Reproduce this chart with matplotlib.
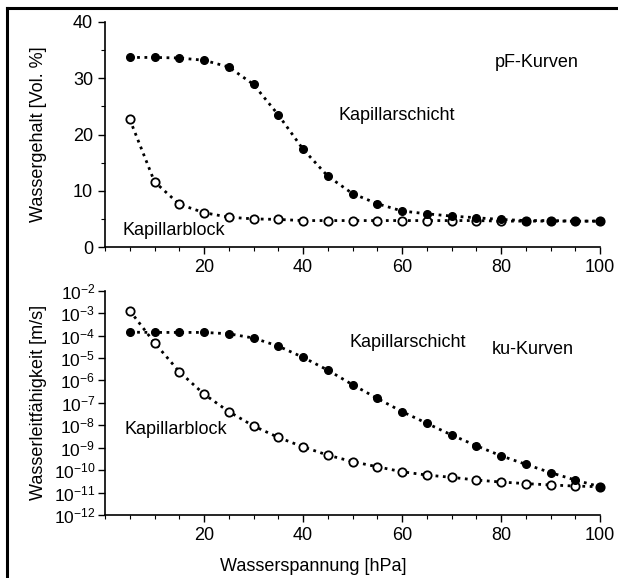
import matplotlib
matplotlib.use("Agg")
import matplotlib.pyplot as plt
from matplotlib.lines import Line2D
from matplotlib.ticker import MultipleLocator, FixedLocator, NullFormatter

plt.rcParams['font.family'] = ['Liberation Sans', 'DejaVu Sans']
plt.rcParams['mathtext.fontset'] = 'custom'
plt.rcParams['mathtext.rm'] = 'Liberation Sans'
plt.rcParams['mathtext.it'] = 'Liberation Sans'

# Wasserspannung [hPa]
spannung = [5, 10, 15, 20, 25, 30, 35, 40, 45, 50, 55, 60, 65, 70, 75, 80, 85, 90, 95, 100]

# pF-Kurven, Wassergehalt [Vol. %]
pf_schicht = [33.7, 33.7, 33.6, 33.2, 32.0, 28.9, 23.5, 17.4, 12.6, 9.5,
              7.7, 6.4, 5.9, 5.5, 5.2, 4.9, 4.7, 4.7, 4.6, 4.6]
pf_block = [22.7, 11.6, 7.6, 6.1, 5.3, 5.0, 4.9, 4.7, 4.7, 4.7,
            4.7, 4.7, 4.7, 4.7, 4.7, 4.6, 4.6, 4.6, 4.6, 4.6]

# ku-Kurven, log10 Wasserleitfaehigkeit [m/s]
ku_schicht_log = [-3.85, -3.86, -3.86, -3.86, -3.92, -4.11, -4.47, -4.97, -5.54, -6.19,
                  -6.80, -7.39, -7.91, -8.43, -8.91, -9.36, -9.74, -10.11, -10.44, -10.74]
ku_block_log = [-2.89, -4.32, -5.61, -6.61, -7.39, -8.03, -8.54, -8.96, -9.33, -9.62,
                -9.85, -10.07, -10.22, -10.32, -10.44, -10.53, -10.60, -10.66, -10.71, -10.74]

ku_schicht = [10 ** v for v in ku_schicht_log]
ku_block = [10 ** v for v in ku_block_log]
decades = list(range(-12, -1))

W, H = 618, 578
fig = plt.figure(figsize=(W / 100, H / 100), dpi=100)

# frame lines (left and top)
fig.add_artist(Line2D([7 / W, 7 / W], [0, 1 - 8 / H], transform=fig.transFigure, color='black', lw=2.2))
fig.add_artist(Line2D([7 / W, 1], [1 - 8 / H, 1 - 8 / H], transform=fig.transFigure, color='black', lw=2.2))

ax1 = fig.add_axes([105 / W, 1 - 247 / H, 495 / W, 225 / H])
ax2 = fig.add_axes([105 / W, 1 - 515 / H, 495 / W, 224.3 / H])


def style(ax):
    for s in ['top', 'right']:
        ax.spines[s].set_visible(False)
    ax.spines['left'].set_linewidth(1.2)
    ax.spines['bottom'].set_linewidth(1.2)
    ax.set_xlim(0, 100)
    ax.xaxis.set_major_locator(FixedLocator([20, 40, 60, 80, 100]))
    ax.xaxis.set_minor_locator(MultipleLocator(5))
    ax.tick_params(which='major', direction='out', length=5, width=1, labelsize=13)
    ax.tick_params(which='minor', direction='out', length=3, width=0.8)


def curves(ax, y_schicht, y_block):
    ax.plot(spannung, y_block, ls=':', lw=2, color='black', marker='o', ms=6,
            mfc='white', mec='black', mew=1.3, clip_on=False)
    ax.plot(spannung, y_schicht, ls=':', lw=2, color='black', marker='o', ms=5.5,
            mfc='black', mec='black', clip_on=False)


style(ax1)
curves(ax1, pf_schicht, pf_block)
ax1.set_ylim(0, 40)
ax1.yaxis.set_major_locator(MultipleLocator(10))
ax1.yaxis.set_minor_locator(MultipleLocator(5))
ax1.set_ylabel('Wassergehalt [Vol. %]', fontsize=13)
ax1.yaxis.set_label_coords(-0.118, 0.5)
ax1.text(87.3, 32.8, 'pF-Kurven', fontsize=13, ha='center', va='center')
ax1.text(59, 23.4, 'Kapillarschicht', fontsize=13, ha='center', va='center')
ax1.text(3.6, 3.0, 'Kapillarblock', fontsize=13, ha='left', va='center')

style(ax2)
curves(ax2, ku_schicht, ku_block)
ax2.set_yscale('log')
ax2.set_ylim(1e-12, 1e-2)
ax2.yaxis.set_major_locator(FixedLocator([10.0 ** d for d in decades]))
ax2.yaxis.set_minor_formatter(NullFormatter())
ax2.yaxis.set_minor_locator(FixedLocator([]))
ax2.set_yticklabels(['$10^{%d}$' % d for d in decades])
ax2.tick_params(axis='y', labelsize=12.5, pad=2)
ax2.set_ylabel('Wasserleitfähigkeit [m/s]', fontsize=13)
ax2.yaxis.set_label_coords(-0.118, 0.5)
ax2.set_xlabel('Wasserspannung [hPa]', fontsize=13)
ax2.xaxis.set_label_coords(0.42, -0.19)
ax2.text(61.2, 10 ** -4.29, 'Kapillarschicht', fontsize=13, ha='center', va='center')
ax2.text(86.5, 10 ** -4.64, 'ku-Kurven', fontsize=13, ha='center', va='center')
ax2.text(4.0, 10 ** -8.21, 'Kapillarblock', fontsize=13, ha='left', va='center')

fig.savefig('out.png', dpi=100)
